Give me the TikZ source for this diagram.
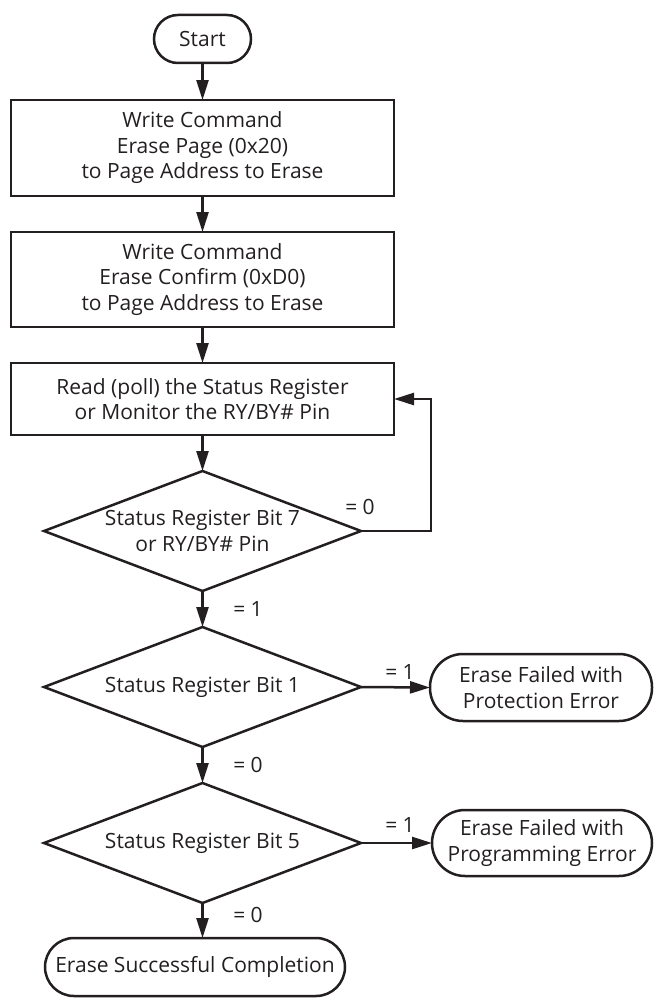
\documentclass[tikz,border=0pt]{standalone}
\usepackage{fontspec}
\setmainfont{Open Sans}
\usetikzlibrary{arrows.meta,shapes.geometric}
\definecolor{ink}{HTML}{231F20}
\begin{document}
\begin{tikzpicture}[x=1pt,y=-1pt,
  every node/.style={text=ink,font=\fontsize{21pt}{25.5pt}\selectfont,inner sep=0pt,outer sep=0pt,align=center},
  proc/.style={draw=ink,line width=2.5pt,rectangle,minimum width=383pt},
  term/.style={draw=ink,line width=2.5pt,rectangle},
  dec/.style={draw=ink,line width=2.5pt,diamond,aspect=2.64,minimum width=317pt,minimum height=120pt},
  lbl/.style={font=\fontsize{21pt}{25pt}\selectfont},
  arr/.style={draw=ink,line width=2.5pt,-{Triangle[length=20pt,width=12pt]}}]
\useasboundingbox (0,0) rectangle (655,998);
\node[term,minimum width=97pt,minimum height=48pt,rounded corners=24pt] (start) at (202.5,39) {Start};
\node[proc,minimum height=96pt] (b1) at (202.5,148) {Write Command\\Erase Page (0x20)\\to Page Address to Erase};
\node[proc,minimum height=95pt] (b2) at (202.5,279.5) {Write Command\\Erase Confirm (0xD0)\\to Page Address to Erase};
\node[proc,minimum height=72pt] (b3) at (202.5,399) {Read (poll) the Status Register\\or Monitor the RY/BY\# Pin};
\node[dec] (d1) at (202.5,531) {Status Register Bit 7\\or RY/BY\# Pin};
\node[dec] (d2) at (202.5,687) {Status Register Bit 1};
\node[dec] (d3) at (202.5,843) {Status Register Bit 5};
\node[term,minimum width=222pt,minimum height=67pt,rounded corners=33pt] (prot) at (541,687.5) {Erase Failed with\\Protection Error};
\node[term,minimum width=220pt,minimum height=66pt,rounded corners=33pt] (prog) at (542,843) {Erase Failed with\\Programming Error};
\node[term,minimum width=300pt,minimum height=58pt,rounded corners=29pt] (done) at (195,967) {Erase Successful Completion};
\draw[arr] (start) -- (b1);
\draw[arr] (b1) -- (b2);
\draw[arr] (b2) -- (b3);
\draw[arr] (b3) -- (d1);
\draw[arr] (d1) -- (d2);
\draw[arr] (d2) -- (d3);
\draw[arr] (d3.south) -- (d3.south |- done.north);
\draw[arr] (d2.east) -- (prot.west);
\draw[arr] (d3.east) -- (prog.west);
\coordinate (loop) at (431,531);
\draw[arr] (d1.east) -- (loop) |- (b3.east);
\node[lbl] (l0a) at (360,507) {= 0};
\node[lbl] (l1a) at (248,609) {= 1};
\node[lbl] (l1b) at (400,672) {= 1};
\node[lbl] (l0b) at (248,765) {= 0};
\node[lbl] (l1c) at (400,825) {= 1};
\node[lbl] (l0c) at (248,915) {= 0};
\end{tikzpicture}
\end{document}
